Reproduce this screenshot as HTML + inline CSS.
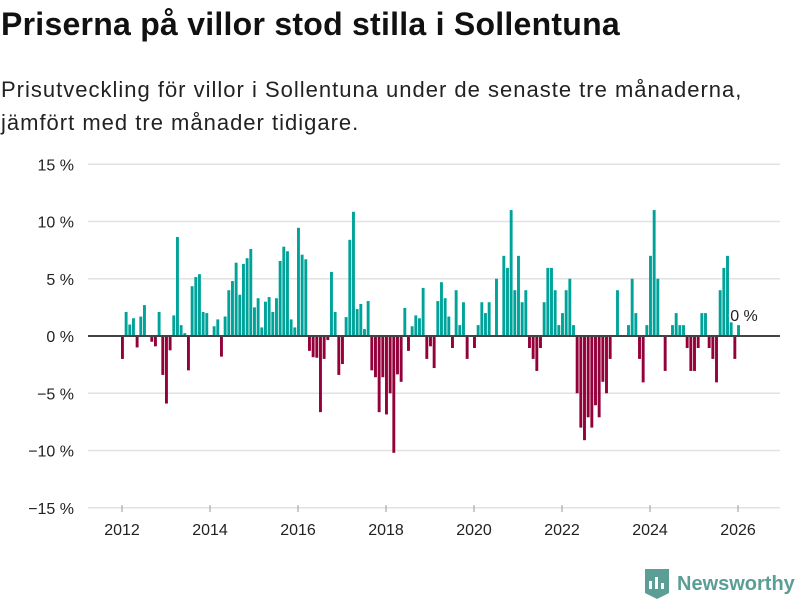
<!DOCTYPE html>
<html><head><meta charset="utf-8">
<style>
body{margin:0;background:#fff;width:800px;height:600px;overflow:hidden;font-family:"Liberation Sans",sans-serif;}
#title{position:absolute;left:1px;top:6px;font-size:32px;font-weight:bold;color:#111;margin:0;letter-spacing:0.25px;white-space:nowrap;}
#sub{position:absolute;left:1px;top:73px;font-size:22px;color:#222;line-height:33px;margin:0;letter-spacing:1.0px;white-space:nowrap;}
svg{position:absolute;left:0;top:0;}
</style></head><body>
<h1 id="title">Priserna på villor stod stilla i Sollentuna</h1>
<p id="sub">Prisutveckling för villor i Sollentuna under de senaste tre månaderna,<br>jämfört med tre månader tidigare.</p>
<svg id="chart" width="800" height="600"></svg>
<script>
const startYear = 2012;
const yTicks = [15,10,5,0,-5,-10,-15];
const xTickYears = [2012,2014,2016,2018,2020,2022,2024,2026];
const values = [
-2.0,2.1,1.0,1.55,-1.0,1.7,2.7,0,-0.5,-0.9,2.1,-3.4,-5.9,-1.25,1.8,8.65,0.95,0.25,-3.0,4.35,
5.15,5.4,2.1,2.0,0,0.85,1.45,-1.8,1.7,4.0,4.8,6.4,3.6,6.3,6.8,7.6,2.5,3.3,0.75,3.0,
3.4,2.1,3.3,6.55,7.8,7.4,1.45,0.75,9.45,7.1,6.7,-1.3,-1.85,-1.9,-6.65,-2.0,-0.35,
5.6,2.1,-3.4,-2.45,1.65,8.4,10.85,2.35,2.8,0.6,3.05,
-3.0,-3.6,-6.65,-3.6,-6.85,-5.0,-10.2,-3.35,-4.0,
2.45,-1.3,0.85,1.8,1.55,
4.2,-2.0,-0.9,-2.8,3.05,4.7,3.3,1.7,-1.05,4.0,0.95,2.95,-2.0,0,-1.05,0.95,2.95,2.0,2.95,0,
5.0,0,7.0,5.95,11.0,4.0,7.0,2.95,4.0,-1.05,-2.0,-3.05,-1.05,2.95,5.95,5.95,4.0,0.95,2.0,4.0,
5.0,0.95,-5.0,-8.0,-9.1,-7.1,-8.0,-6.05,-7.1,-4.0,-5.0,-2.0,0,4.0,0,0,0.95,5.0,2.0,-2.0,
-4.05,0.95,7.0,11.0,5.0,0,-3.05,0,0.95,2.0,0.95,0.95,-1.05,-3.05,-3.05,-1.05,2.0,2.0,-1.05,-2.0,
-4.05,4.0,5.95,7.0,1.2,-2.0,0.95
];
const lastLabel = "0 %";

const NS="http://www.w3.org/2000/svg";
const svg=document.getElementById('chart');
const y=v=>336-v*11.45;
const xMonth=i=>121+i*3.667;
const xYear=yr=>122+(yr-startYear)*44;
function mk(tag,attrs){const e=document.createElementNS(NS,tag);for(const k in attrs)e.setAttribute(k,attrs[k]);svg.appendChild(e);return e;}

yTicks.forEach(t=>{
  if(t!==0){const g=mk('line',{x1:88,x2:780,y1:y(t),y2:y(t),stroke:'#e2e2e2','stroke-width':1.5});
  
  }
  const lb=mk('text',{x:74,y:y(t)+6,'text-anchor':'end','font-size':16,fill:'#222','font-family':'Liberation Sans, sans-serif'});
  lb.textContent=(t<0?'\u2212'+(-t):t)+' %';
  
  
});
xTickYears.forEach(yr=>{
  const tk=mk('line',{x1:xYear(yr),x2:xYear(yr),y1:505,y2:512,stroke:'#999','stroke-width':1});
  
  
  const lb=mk('text',{x:xYear(yr),y:535,'text-anchor':'middle','font-size':16,fill:'#222','font-family':'Liberation Sans, sans-serif'});
  lb.textContent=yr;
  
  
});
values.forEach((v,i)=>{
  const top=Math.min(y(v),y(0)),h=Math.abs(y(v)-y(0));
  const b=mk('rect',{x:xMonth(i),y:top,width:2.9,height:h,fill:v>=0?'#00a39a':'#93003a'});
  
  
});
const zl=mk('line',{x1:88,x2:780,y1:y(0),y2:y(0),stroke:'#444','stroke-width':2});


const ll=mk('text',{x:744,y:321,'text-anchor':'middle','font-size':16,fill:'#222',stroke:'#fff','stroke-width':4,'paint-order':'stroke','font-family':'Liberation Sans, sans-serif'});
ll.textContent=lastLabel;


</script>
<div style="position:absolute;left:645px;top:569px;height:30px;display:flex;align-items:center;">
<svg width="24" height="30" viewBox="0 0 24 30" style="position:static"><path d="M0 0H24V24L12 30L0 24Z" fill="#5a9e95"/><rect x="4" y="12" width="3" height="8" fill="#fff"/><rect x="10" y="8" width="3" height="12" fill="#fff"/><rect x="16" y="14" width="3" height="6" fill="#fff"/></svg>
<span style="margin-left:8px;font-size:20px;font-weight:bold;color:#5a9e95;">Newsworthy</span>
</div>
</body></html>
